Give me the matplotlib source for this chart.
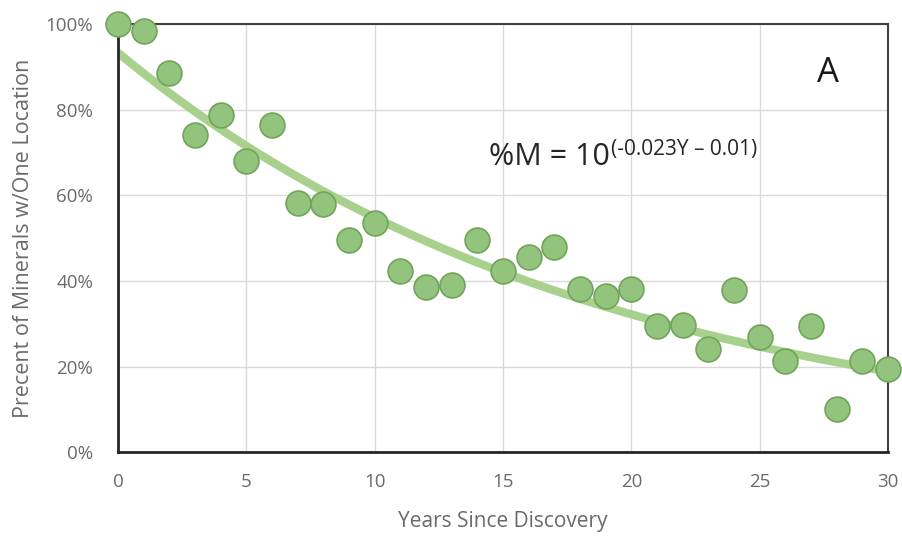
import numpy as np
import matplotlib.pyplot as plt
from matplotlib.ticker import PercentFormatter

years = list(range(31))
pct_one_location = [100.0, 98.4, 88.5, 74.1, 78.8, 68.1, 76.4, 58.3, 57.9, 49.6,
                    53.6, 42.4, 38.7, 39.0, 49.6, 42.4, 45.6, 48.0, 38.1, 36.4,
                    38.2, 29.4, 29.8, 24.2, 37.8, 27.0, 21.4, 29.4, 10.2, 21.4,
                    19.5]

x_ticks = [0, 5, 10, 15, 20, 25, 30]
y_ticks = [0, 20, 40, 60, 80, 100]

plt.rcParams['font.family'] = ['Open Sans', 'DejaVu Sans']

fig = plt.figure(figsize=(9.03, 5.38), dpi=100)
ax = fig.add_axes([0.1307, 0.159, 0.8527, 0.7964])

# exponential trendline fitted to the points
x = np.array(years, dtype=float)
y = np.array(pct_one_location)
b, a = np.polyfit(x, np.log10(y), 1)
xs = np.linspace(0, 30, 200)
ax.plot(xs, 10 ** (a + b * xs), color='#a9d18e', lw=6, solid_capstyle='butt', zorder=2)

ax.scatter(years, pct_one_location, s=320, color='#93c47d', edgecolor='#72a35a',
           linewidth=1.2, zorder=3, clip_on=False)

ax.set_xlim(0, 30)
ax.set_ylim(0, 100)
ax.set_xticks(x_ticks)
ax.set_yticks(y_ticks)
ax.yaxis.set_major_formatter(PercentFormatter(decimals=0))
ax.tick_params(length=0, labelsize=13.5, labelcolor='#6a6a6a')
ax.tick_params(axis='x', pad=15)
ax.tick_params(axis='y', pad=18)
ax.grid(color='#d9d9d9', lw=1)
ax.set_axisbelow(True)

for side in ['left', 'bottom']:
    ax.spines[side].set_linewidth(2)
    ax.spines[side].set_color('#262626')
for side in ['top', 'right']:
    ax.spines[side].set_linewidth(1.5)
    ax.spines[side].set_color('#404040')

ax.set_xlabel('Years Since Discovery', fontsize=15, color='#6a6a6a', labelpad=14)
ax.set_ylabel('Precent of Minerals w/One Location', fontsize=15.5, color='#6a6a6a',
              labelpad=8)

ax.text(0.922, 0.886, 'A', transform=ax.transAxes, fontsize=25, color='#1a1a1a',
        ha='center', va='center')
eq = ax.text(0.482, 0.69, '%M = 10', transform=ax.transAxes, fontsize=22,
             color='#262626', ha='left', va='center')
ax.annotate('(-0.023Y \u2013 0.01)', xy=(1, 1), xycoords=eq, xytext=(1, 2),
            textcoords='offset points', fontsize=15, color='#262626',
            ha='left', va='top')

fig.savefig('out.png', dpi=100)
